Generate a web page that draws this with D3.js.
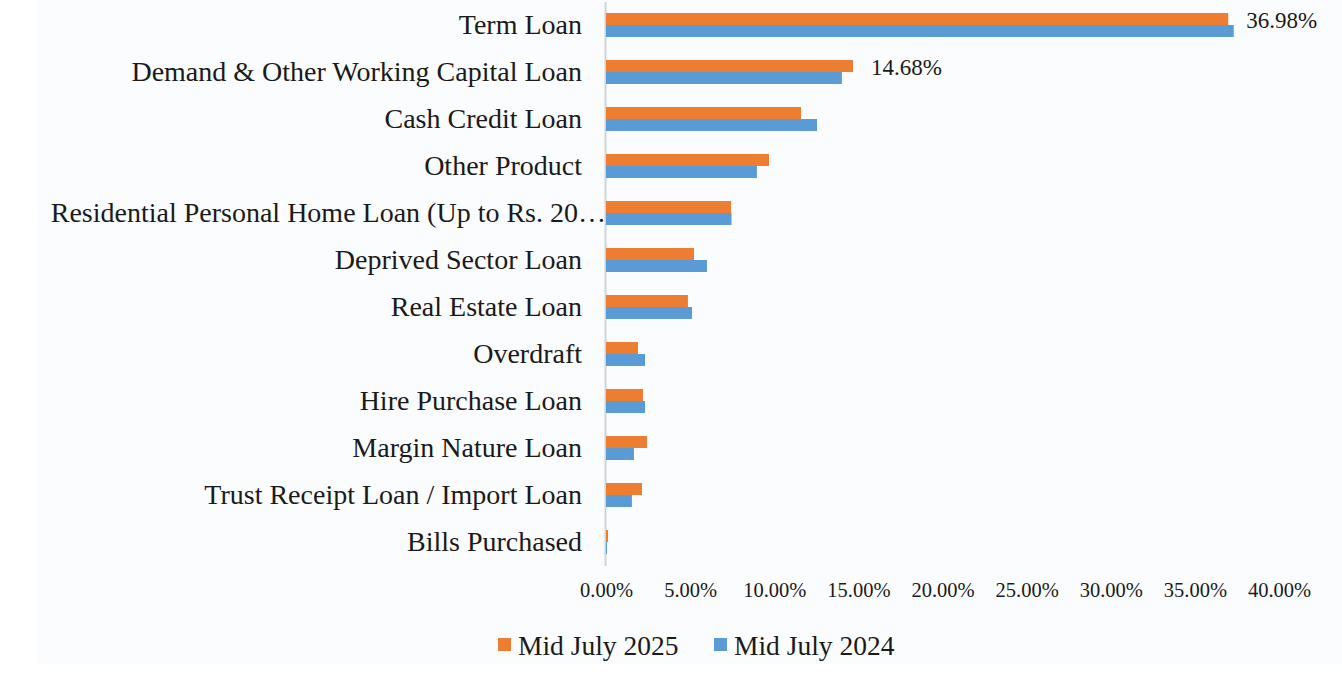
<!DOCTYPE html>
<html>
<head>
<meta charset="utf-8">
<script src="https://cdn.jsdelivr.net/npm/d3@7"></script>
<style>
  body { margin: 0; background: #ffffff; }
  svg { display: block; }
</style>
</head>
<body>
<div id="chart"></div>
<script>
// Loan product share, two periods
const categories = [
    'Term Loan',
    'Demand & Other Working Capital Loan',
    'Cash Credit Loan',
    'Other Product',
    'Residential Personal Home Loan (Up to Rs. 20\u2026',
    'Deprived Sector Loan',
    'Real Estate Loan',
    'Overdraft',
    'Hire Purchase Loan',
    'Margin Nature Loan',
    'Trust Receipt Loan / Import Loan',
    'Bills Purchased'
];
const seriesNames = ['Mid July 2025', 'Mid July 2024'];
const july2025 = [36.98, 14.68, 11.59, 9.69, 7.43, 5.23, 4.87, 1.90, 2.20, 2.44, 2.14, 0.12];
const july2024 = [37.31, 14.02, 12.54, 8.97, 7.46, 6.00, 5.11, 2.32, 2.32, 1.66, 1.54, 0.06];
const xTicks = [0, 5, 10, 15, 20, 25, 30, 35, 40];
const labelled = [
    { index: 0, text: '36.98%' },
    { index: 1, text: '14.68%' }
];

const width = 1342;
const height = 676;
const colors = ['#ed7d31', '#5b9bd5'];
const font = '"Liberation Serif", "Times New Roman", serif';

const svg = d3.select('#chart')
    .append('svg')
    .attr('width', width)
    .attr('height', height);

// faint panel background
svg.append('rect')
    .attr('x', 37)
    .attr('y', 0)
    .attr('width', width - 37)
    .attr('height', 664)
    .attr('fill', '#fafcfd');

// Scales
const x = d3.scaleLinear().domain([0, 40]).range([606, 1279]);
const y = d3.scaleBand().domain(categories).range([1.5, 565.5]).paddingInner(0.49).paddingOuter(0.245);
const ySub = d3.scaleBand().domain([0, 1]).range([0, y.bandwidth()]);

// Axis line (vertical at zero)
svg.append('line')
    .attr('x1', x(0) - 0.5)
    .attr('x2', x(0) - 0.5)
    .attr('y1', 2)
    .attr('y2', 566)
    .attr('stroke', '#d0d4d9')
    .attr('stroke-width', 2);

// Bars
const data = [july2025, july2024];
data.forEach((vals, s) => {
    svg.append('g')
        .selectAll('rect')
        .data(vals)
        .enter()
        .append('rect')
        .attr('x', x(0))
        .attr('y', (d, i) => y(categories[i]) + ySub(s))
        .attr('width', d => x(d) - x(0))
        .attr('height', ySub.bandwidth())
        .attr('fill', colors[s]);
});

// Category labels
const yAxis = svg.append('g')
    .attr('transform', `translate(${x(0)},0)`)
    .call(d3.axisLeft(y).tickSize(0).tickPadding(24));
yAxis.select('.domain').remove();
yAxis.selectAll('text')
    .attr('font-family', font)
    .attr('font-size', '28px')
    .attr('fill', '#1a1a1a');
// long label runs right up to the axis in the original
yAxis.selectAll('.tick')
    .filter(d => d.indexOf('Residential') === 0)
    .select('text')
    .attr('x', 0);

// X tick labels
const xAxis = svg.append('g')
    .attr('transform', 'translate(0,578)')
    .call(d3.axisBottom(x).tickValues(xTicks).tickSize(0).tickPadding(4)
        .tickFormat(d => d.toFixed(2) + '%'));
xAxis.select('.domain').remove();
xAxis.selectAll('text')
    .attr('font-family', font)
    .attr('font-size', '20.5px')
    .attr('fill', '#1a1a1a');

// Data labels (on the Mid July 2025 series)
svg.append('g')
    .selectAll('text')
    .data(labelled)
    .enter()
    .append('text')
    .attr('x', d => x(july2025[d.index]) + 18)
    .attr('y', d => y(categories[d.index]) + ySub(0) + ySub.bandwidth() / 2 + 1)
    .attr('dy', '0.35em')
    .attr('font-family', font)
    .attr('font-size', '23px')
    .attr('fill', '#1a1a1a')
    .text(d => d.text);

// Legend
const legendX = [498, 714];
const legend = svg.append('g')
    .selectAll('g')
    .data(seriesNames)
    .enter()
    .append('g')
    .attr('transform', (d, i) => `translate(${legendX[i]},645)`);

legend.append('rect')
    .attr('x', 0)
    .attr('y', -7)
    .attr('width', 13)
    .attr('height', 13)
    .attr('fill', (d, i) => colors[i]);

legend.append('text')
    .attr('x', 20)
    .attr('y', 0)
    .attr('dy', '0.35em')
    .attr('font-family', font)
    .attr('font-size', '27.5px')
    .attr('fill', '#1a1a1a')
    .text(d => d);
</script>
</body>
</html>
